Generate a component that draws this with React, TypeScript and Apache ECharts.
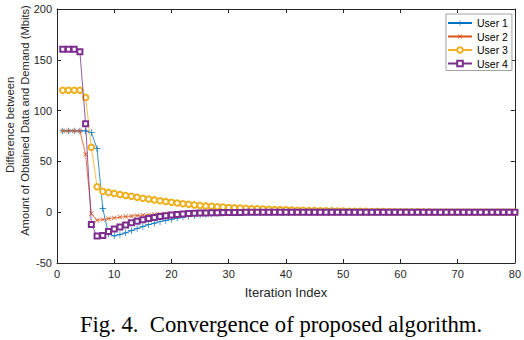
import React, { useEffect, useRef } from "react";
import * as echarts from "echarts";

const iterations: number[] = Array.from({ length: 80 }, (_, k) => k + 1);

const user1: number[] = [
  80, 80, 80, 80, 80, 78.5, 62.5, 3.6, -21.5, -23.3,
  -22, -20.3, -18.2, -16.1, -14.1, -12.3, -10.8, -9.4, -8.1, -6.9,
  -5.8, -4.8, -3.9, -3.2, -2.6, -2.1, -1.7, -1.4, -1.1, -0.9,
  -0.7, -0.55, -0.45, -0.35, -0.3, -0.25, -0.2, -0.15, -0.1, -0.1,
  -0.05, -0.05, 0, 0, 0, 0, 0, 0, 0, 0,
  0, 0, 0, 0, 0, 0, 0, 0, 0, 0,
  0, 0, 0, 0, 0, 0, 0, 0, 0, 0,
  0, 0, 0, 0, 0, 0, 0, 0, 0, 0,
];

const user2: number[] = [
  80, 80, 80, 80, 57, -1.5, -8, -7.2, -6.4, -5.6,
  -4.9, -4.3, -3.8, -3.3, -2.9, -2.5, -2.2, -1.9, -1.7, -1.5,
  -1.3, -1.1, -1.0, -0.9, -0.8, -0.7, -0.6, -0.5, -0.45, -0.4,
  -0.35, -0.3, -0.25, -0.2, -0.2, -0.15, -0.15, -0.1, -0.1, -0.1,
  -0.05, -0.05, -0.05, 0, 0, 0, 0, 0, 0, 0,
  0, 0, 0, 0, 0, 0, 0, 0, 0, 0,
  0, 0, 0, 0, 0, 0, 0, 0, 0, 0,
  0, 0, 0, 0, 0, 0, 0, 0, 0, 0,
];

const user3: number[] = [
  120, 120, 120, 120, 113, 64, 25, 20.5, 19.5, 18.5,
  17.5, 16.5, 15.6, 14.7, 13.8, 12.9, 12.1, 11.3, 10.5, 9.8,
  9.1, 8.4, 7.8, 7.2, 6.7, 6.2, 5.8, 5.4, 5.0, 4.7,
  4.4, 4.1, 3.8, 3.5, 3.3, 3.1, 2.9, 2.7, 2.5, 2.3,
  2.1, 2.0, 1.8, 1.7, 1.6, 1.5, 1.4, 1.3, 1.2, 1.1,
  1.0, 0.9, 0.85, 0.8, 0.7, 0.65, 0.6, 0.55, 0.5, 0.45,
  0.4, 0.4, 0.35, 0.3, 0.3, 0.25, 0.25, 0.2, 0.2, 0.2,
  0.15, 0.15, 0.15, 0.15, 0.15, 0.1, 0.1, 0.1, 0.1, 0.1,
];

const user4: number[] = [
  160.5, 160.5, 160.5, 158, 87, -12, -23.5, -23, -19, -16.5,
  -14.5, -12.5, -10.5, -9, -7.5, -6.2, -5.2, -4.3, -3.5, -2.8,
  -2.3, -1.8, -1.4, -1.1, -0.9, -0.7, -0.55, -0.45, -0.35, -0.3,
  -0.25, -0.2, -0.15, -0.15, -0.1, -0.1, -0.05, -0.05, 0, 0,
  0, 0, 0, 0, 0, 0, 0, 0, 0, 0,
  0, 0, 0, 0, 0, 0, 0, 0, 0, 0,
  0, 0, 0, 0, 0, 0, 0, 0, 0, 0,
  0, 0, 0, 0, 0, 0, 0, 0, 0, 0,
];

const seriesNames: string[] = ["User 1", "User 2", "User 3", "User 4"];
const seriesColors: string[] = ["#0072BD", "#D95319", "#EDB120", "#7E2F8E"];

const xTicks = { min: 0, max: 80, interval: 10 };
const yTicks = { min: -50, max: 200, interval: 50 };

const xLabel = "Iteration Index";
const yLabelLine1 = "Difference between";
const yLabelLine2 = "Amount of Obtained Data and Demand (Mbits)";
const caption = "Fig. 4.  Convergence of proposed algorithm.";

const SANS = "'Liberation Sans', Arial, Helvetica, sans-serif";
const SERIF = "'Liberation Serif', 'Times New Roman', serif";
const AXIS_COLOR = "#262626";
const PLUS = "path://M0,4.45H10V5.55H0Z M4.45,0H5.55V10H4.45Z";

export default function App() {
  const ref = useRef<HTMLDivElement>(null);

  useEffect(() => {
    if (!ref.current) return;
    const chart = echarts.init(ref.current, undefined, { renderer: "svg" });
    const toPairs = (arr: number[]) => arr.map((v, k) => [iterations[k], v]);
    const all = [user1, user2, user3, user4];
    const symbols = [PLUS, PLUS, "emptyCircle", "emptyRect"];
    const sizes = [6.5, 6, 5.5, 5];
    const rotates = [0, 45, 0, 0];
    const borders = [0, 0, 0.5, 0.5];

    const axisCommon = {
      type: "value" as const,
      axisLine: { show: true, onZero: false, lineStyle: { color: AXIS_COLOR, width: 1 } },
      axisTick: { show: true, inside: true, length: 4, lineStyle: { color: AXIS_COLOR } },
      splitLine: { show: false },
    };

    chart.setOption({
      animation: false,
      backgroundColor: "#ffffff",
      grid: { left: 57, right: 8, top: 9, bottom: 77, containLabel: false },
      xAxis: [
        {
          ...axisCommon,
          position: "bottom",
          ...xTicks,
          name: xLabel,
          nameLocation: "middle",
          nameGap: 23,
          nameTextStyle: { fontSize: 13, color: AXIS_COLOR, fontFamily: SANS },
          axisLabel: { show: true, margin: 5, fontSize: 11, color: AXIS_COLOR, fontFamily: SANS },
        },
        {
          ...axisCommon,
          position: "top",
          ...xTicks,
          axisLabel: { show: false },
        },
      ],
      yAxis: [
        {
          ...axisCommon,
          position: "left",
          ...yTicks,
          axisLabel: { show: true, margin: 5, fontSize: 11, color: AXIS_COLOR, fontFamily: SANS },
        },
        {
          ...axisCommon,
          position: "right",
          ...yTicks,
          axisLabel: { show: false },
        },
      ],
      legend: {
        orient: "vertical",
        left: 446,
        top: 14,
        itemWidth: 24,
        itemHeight: 7,
        itemGap: 2.5,
        padding: [3.5, 4, 1.5, 1],
        borderColor: "#8c8c8c",
        borderWidth: 0.8,
        backgroundColor: "#ffffff",
        textStyle: { fontSize: 10.5, color: "#000", fontFamily: SANS },
        data: seriesNames,
      },
      series: all.map((arr, i) => ({
        name: seriesNames[i],
        type: "line",
        data: toPairs(arr),
        symbol: symbols[i],
        symbolSize: sizes[i],
        symbolRotate: rotates[i],
        showSymbol: true,
        showAllSymbol: true,
        lineStyle: { width: 0.8, color: seriesColors[i] },
        itemStyle: { color: seriesColors[i], borderColor: seriesColors[i], borderWidth: borders[i] },
        emphasis: { disabled: true },
        z: 2 + i,
      })),
      graphic: [
        {
          type: "text",
          x: 10,
          y: 125,
          rotation: Math.PI / 2,
          style: {
            text: yLabelLine1,
            fontSize: 11.2,
            fontFamily: SANS,
            fill: AXIS_COLOR,
            align: "center",
            verticalAlign: "middle",
            textAlign: "center",
            textVerticalAlign: "middle",
          },
        },
        {
          type: "text",
          x: 25,
          y: 120.5,
          rotation: Math.PI / 2,
          style: {
            text: yLabelLine2,
            fontSize: 11.2,
            fontFamily: SANS,
            fill: AXIS_COLOR,
            align: "center",
            verticalAlign: "middle",
            textAlign: "center",
            textVerticalAlign: "middle",
          },
        },
        {
          type: "text",
          x: 281,
          y: 324,
          style: {
            text: caption,
            fontSize: 22.7,
            fontFamily: SERIF,
            fill: "#000",
            align: "center",
            verticalAlign: "middle",
            textAlign: "center",
            textVerticalAlign: "middle",
          },
        },
      ],
    });
    return () => chart.dispose();
  }, []);

  return (
    <div
      ref={ref}
      style={{ position: "fixed", left: 0, top: 0, width: 524, height: 340, background: "#fff" }}
    />
  );
}
